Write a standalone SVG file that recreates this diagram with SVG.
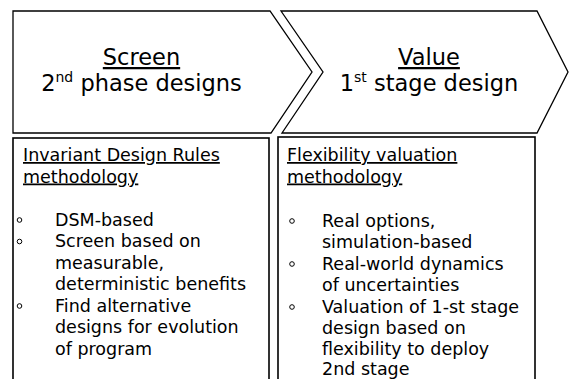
<svg xmlns="http://www.w3.org/2000/svg" width="569" height="379" viewBox="0 0 569 379">
<style>
.shape{fill:#fff;stroke:#000;stroke-width:1.3;stroke-linejoin:miter}
.box{fill:#fff;stroke:#000;stroke-width:1.6}
.title{font-family:"DejaVu Sans",Verdana,sans-serif;font-size:22.5px;fill:#000;text-anchor:middle}
.body{font-family:"DejaVu Sans",Verdana,sans-serif;font-size:17.5px;fill:#000}
.u{text-decoration:underline}
.bul{fill:none;stroke:#000;stroke-width:1}
</style>
<rect width="569" height="379" fill="#fff"/>
<g id="connectors"></g>
<g id="screen-chevron">
<polygon class="shape" points="13,11 270,11 312,72 271,133 13,133"/>
<text class="title u" x="141.5" y="65">Screen</text>
<text class="title" x="141.5" y="91">2<tspan font-size="14" dy="-9">nd</tspan><tspan dy="9"> phase designs</tspan></text>
</g>
<g id="value-chevron">
<polygon class="shape" points="281,11 537,11 568,72 537,133 282,133 323,72"/>
<text class="title u" x="429" y="65">Value</text>
<text class="title" x="429" y="91">1<tspan font-size="14" dy="-9">st</tspan><tspan dy="9"> stage design</tspan></text>
</g>
<g id="invariant-box">
<rect class="box" x="13" y="138" width="256" height="260"/>
<text class="body u" x="23" y="161">Invariant Design Rules</text>
<text class="body u" x="23" y="182.5">methodology</text>
<circle class="bul" cx="19.5" cy="220" r="2.3"/>
<circle class="bul" cx="19.5" cy="241.5" r="2.3"/>
<circle class="bul" cx="19.5" cy="306" r="2.3"/>
<text class="body" x="55" y="225.5">DSM-based</text>
<text class="body" x="55" y="247">Screen based on</text>
<text class="body" x="55" y="268.5">measurable,</text>
<text class="body" x="55" y="290">deterministic benefits</text>
<text class="body" x="55" y="311.5">Find alternative</text>
<text class="body" x="55" y="333">designs for evolution</text>
<text class="body" x="55" y="354.5">of program</text>
</g>
<g id="flexibility-box">
<rect class="box" x="278" y="137" width="257" height="260"/>
<text class="body u" x="287" y="161">Flexibility valuation</text>
<text class="body u" x="287" y="182.5">methodology</text>
<circle class="bul" cx="292" cy="221" r="2.3"/>
<circle class="bul" cx="292" cy="264" r="2.3"/>
<circle class="bul" cx="292" cy="307" r="2.3"/>
<text class="body" x="322" y="226.5">Real options,</text>
<text class="body" x="322" y="248">simulation-based</text>
<text class="body" x="322" y="269.5">Real-world dynamics</text>
<text class="body" x="322" y="291">of uncertainties</text>
<text class="body" x="322" y="312.5">Valuation of 1-st stage</text>
<text class="body" x="322" y="334">design based on</text>
<text class="body" x="322" y="355">flexibility to deploy</text>
<text class="body" x="322" y="374.5">2nd stage</text>
</g>
</svg>
